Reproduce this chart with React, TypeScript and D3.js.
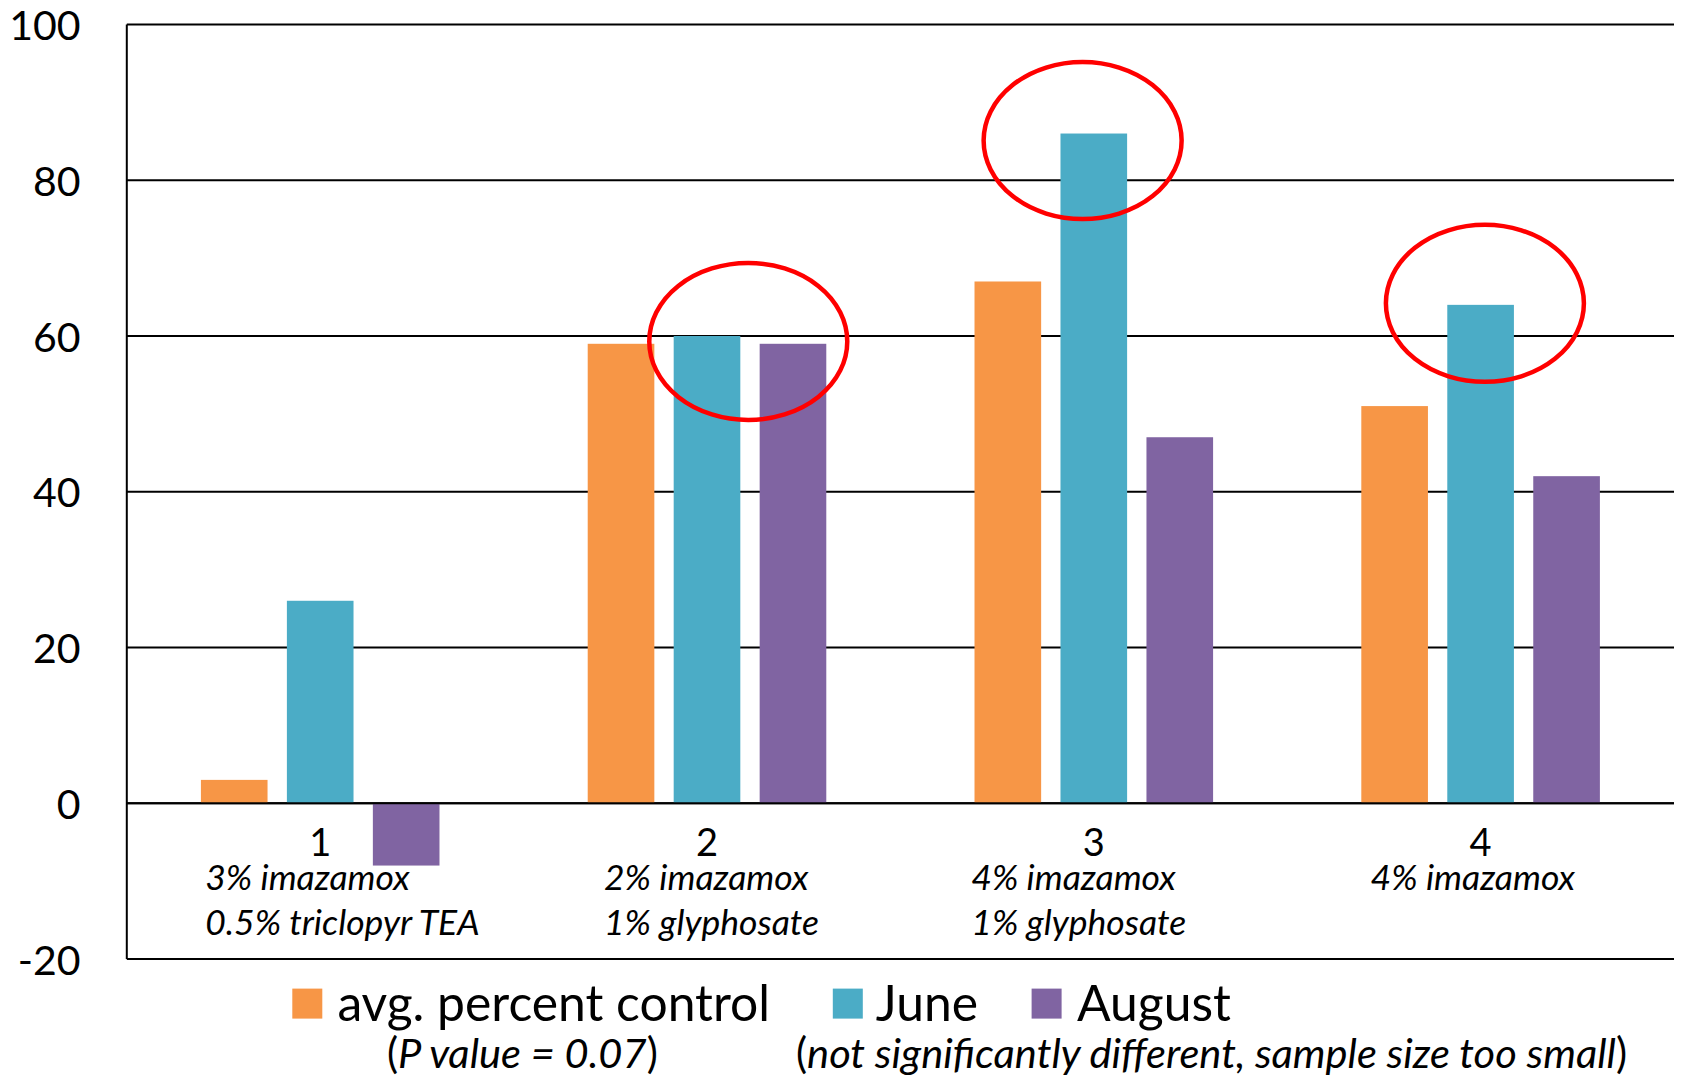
import React from "react";
import * as d3 from "d3";

// Treatment groups and their label lines
const categories = ["1", "2", "3", "4"];
const treatmentLines = [
  ["3% imazamox", "0.5% triclopyr TEA"],
  ["2% imazamox", "1% glyphosate"],
  ["4% imazamox", "1% glyphosate"],
  ["4% imazamox"],
];

// Series (percent control)
const seriesNames = ["avg. percent control", "June", "August"];
const avgControl = [3, 59, 67, 51];
const june = [26, 60, 86, 64];
const august = [-8, 59, 47, 42];

const yTicks = [-20, 0, 20, 40, 60, 80, 100];

// Highlighted June results: group, centre value, horizontal shift in bar slots
const highlights = [
  { group: "2", value: 59.3, shift: 0.48 },
  { group: "3", value: 85.1, shift: -0.13 },
  { group: "4", value: 64.2, shift: 0.05 },
];

const legendNotes = ["P value = 0.07", "not significantly different, sample size too small"];

const colors = ["#F79646", "#4BACC6", "#8064A2"];

const W = 1685;
const H = 1081;
const plot = { left: 126.8, right: 1674, top: 24.5, bottom: 959 };
const FONT = "Lato, 'Open Sans', sans-serif";

export default function App() {
  const values = [avgControl, june, august];

  const x0 = d3.scaleBand<string>().domain(categories).range([plot.left, plot.right]);
  const x1 = d3
    .scaleBand<string>()
    .domain(seriesNames)
    .range([0, x0.bandwidth()])
    .paddingInner(0.225)
    .paddingOuter(0.862);
  const y = d3.scaleLinear().domain([-20, 100]).range([plot.bottom, plot.top]);

  const labelOffsets = [-115, -103, -122.5, -110];

  return (
    <svg
      width={W}
      height={H}
      style={{ position: "absolute", left: 0, top: 0, background: "#fff" }}
      fontFamily={FONT}
    >
      {/* gridlines */}
      {yTicks.map((t) => (
        <line
          key={"g" + t}
          x1={plot.left}
          x2={plot.right}
          y1={y(t)}
          y2={y(t)}
          stroke="#000"
          strokeWidth={1.8}
        />
      ))}
      <line x1={plot.left} x2={plot.left} y1={plot.top} y2={plot.bottom} stroke="#000" strokeWidth={2} />

      {/* tick labels */}
      {yTicks.map((t) => (
        <text
          key={"t" + t}
          x={80.6}
          y={y(t)}
          textAnchor="end"
          dominantBaseline="central"
          fontSize={41}
          fill="#000"
        >
          {t}
        </text>
      ))}

      {/* bars */}
      {categories.map((c, i) => (
        <g key={"b" + c} transform={`translate(${x0(c)},0)`}>
          {seriesNames.map((s, j) => {
            const v = values[j][i];
            return (
              <rect
                key={s}
                x={x1(s)}
                width={x1.bandwidth()}
                y={Math.min(y(v), y(0))}
                height={Math.abs(y(v) - y(0))}
                fill={colors[j]}
              />
            );
          })}
        </g>
      ))}
      <line x1={plot.left} x2={plot.right} y1={y(0)} y2={y(0)} stroke="#000" strokeWidth={2} />

      {/* category labels */}
      {categories.map((c, i) => {
        const cx = (x0(c) as number) + x0.bandwidth() / 2;
        return (
          <g key={"c" + c}>
            <text x={cx} y={856} textAnchor="middle" fontSize={38} fill="#000">
              {c}
            </text>
            {treatmentLines[i].map((ln, k) => (
              <text
                key={k}
                x={cx + labelOffsets[i]}
                y={890 + k * 45}
                fontSize={35.5}
                fontStyle="italic"
                fill="#000"
              >
                {ln}
              </text>
            ))}
          </g>
        );
      })}

      {/* highlight ellipses */}
      {highlights.map((h) => {
        const cx =
          (x0(h.group) as number) + (x1("June") as number) + x1.bandwidth() / 2 + h.shift * x1.step();
        return (
          <ellipse
            key={"e" + h.group}
            cx={cx}
            cy={y(h.value)}
            rx={99}
            ry={78.5}
            fill="none"
            stroke="#FF0000"
            strokeWidth={4.5}
          />
        );
      })}

      {/* legend */}
      <g fontSize={49.8} fill="#000">
        <rect x={292.3} y={988.6} width={30} height={30} fill={colors[0]} />
        <text x={337.4} y={1021}>{seriesNames[0]}</text>
        <rect x={832.8} y={988.6} width={30} height={30} fill={colors[1]} />
        <text x={875.8} y={1021}>{seriesNames[1]}</text>
        <rect x={1031.6} y={988.6} width={30} height={30} fill={colors[2]} />
        <text x={1077} y={1021}>{seriesNames[2]}</text>
      </g>
      <g fontSize={41.6} fill="#000">
        <text x={387} y={1068}>
          (<tspan fontStyle="italic">{legendNotes[0]}</tspan>)
        </text>
        <text x={796} y={1068}>
          (<tspan fontStyle="italic">{legendNotes[1]}</tspan>)
        </text>
      </g>
    </svg>
  );
}
